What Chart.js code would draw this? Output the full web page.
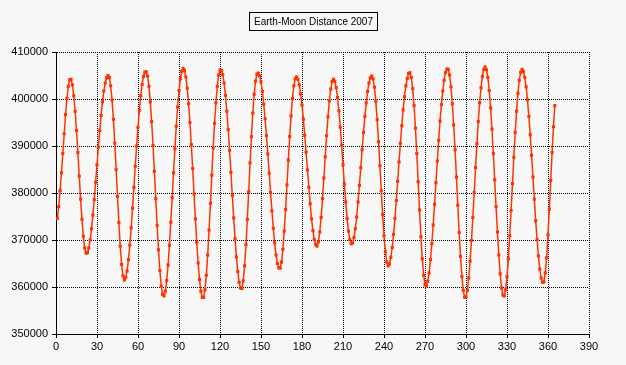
<!DOCTYPE html>
<html>
<head>
<meta charset="utf-8">
<script src="https://cdn.jsdelivr.net/npm/chart.js@4.4.1/dist/chart.umd.min.js"></script>
<style>
html,body{margin:0;padding:0;background:#f7f7f7;}
#wrap{position:relative;width:626px;height:365px;overflow:hidden;}
#c{position:absolute;left:0;top:0;}
#title{position:absolute;left:249px;top:12px;width:127px;height:17px;border:1px solid #000;
  font:10px "Liberation Sans",Arial,sans-serif;line-height:17px;text-align:center;color:#000;}
</style>
</head>
<body>
<div id="wrap">
  <canvas id="c" width="626" height="365"></canvas>
  <div id="title"></div>
</div>
<script>
const chartTitle = "Earth-Moon Distance 2007";
const firstDay = 1;
// daily Earth-Moon distance (km), day 1 .. day 365
const distanceKm = [
  374600, 377100, 380500, 384300, 388400, 392600, 396700, 400100, 402700, 404100,
  404200, 403000, 400700, 397400, 393300, 388600, 383600, 378700, 374400, 370800, 368300, 367200,
  367300, 368300, 370000, 372400, 375300, 378600, 382300, 386000, 389800, 393300, 396500, 399400, 401700, 403400, 404500, 405000,
  404600, 402800, 399800, 395700, 390600, 385000, 379300, 373700, 368700, 364800, 362400, 361500,
  362000, 363400, 365800, 368900, 372600, 376800, 381200, 385700, 390000, 394000, 397600, 400700, 403100, 404800, 405700,
  405800, 404900, 402700, 399400, 395200, 390100, 384600, 378800, 373100, 367900, 363500, 360200, 358400,
  358100, 359100, 361400, 364700, 368900, 373800, 379000, 384300, 389400, 394200, 398300, 401800, 404300, 405900, 406500,
  406100, 404700, 402300, 399000, 395000, 390300, 385200, 379800, 374500, 369500, 365100, 361600, 359100, 357800,
  357800, 359400, 362500, 366800, 372100, 377800, 383800, 389600, 394800, 399200, 402700, 405100, 406200,
  406100, 405200, 403400, 400800, 397400, 393500, 389100, 384400, 379500, 374700, 370300, 366400, 363300, 361000, 359800,
  359700, 361300, 364500, 369000, 374400, 380300, 386400, 392000, 397000, 401000, 403800, 405300,
  405500, 404900, 403600, 401600, 398900, 395800, 392200, 388300, 384200, 380100, 376200, 372500, 369400, 366800, 365000, 364100,
  364000, 365300, 368000, 371900, 376500, 381700, 387000, 392000, 396400, 400100, 402800, 404300,
  404700, 404200, 403000, 401100, 398700, 395700, 392300, 388700, 384900, 381200, 377700, 374500, 372000, 370100, 369000,
  368700, 369600, 371700, 374800, 378800, 383200, 387700, 392200, 396200, 399600, 402100, 403700, 404200,
  403800, 402400, 400300, 397500, 394000, 390200, 386000, 381900, 378100, 374600, 371900, 370100, 369200,
  369400, 370500, 372400, 374900, 378100, 381600, 385400, 389200, 392900, 396300, 399200, 401600, 403400, 404500, 404900,
  404300, 402500, 399500, 395600, 390900, 385800, 380500, 375400, 370900, 367500, 365300, 364500,
  364900, 366300, 368400, 371200, 374600, 378400, 382500, 386600, 390600, 394300, 397700, 400500, 402800, 404400, 405400,
  405600, 404600, 402200, 398600, 393800, 388400, 382400, 376400, 370700, 366000, 362500, 360500,
  360300, 361200, 363000, 365800, 369200, 373200, 377600, 382200, 386800, 391200, 395300, 398800, 401700, 404000, 405600, 406400,
  406300, 405100, 402600, 399000, 394500, 389200, 383400, 377400, 371600, 366500, 362200, 359300, 357800,
  357900, 359300, 361900, 365500, 369900, 374800, 380100, 385400, 390500, 395200, 399200, 402400, 404800, 406300,
  406800, 406200, 404600, 401800, 398100, 393600, 388400, 382800, 377100, 371700, 366800, 362800, 359800, 358300,
  358100, 359400, 362200, 366000, 370900, 376300, 382000, 387600, 392900, 397400, 401200, 404000, 405700,
  406300, 405900, 404600, 402600, 399800, 396300, 392400, 388000, 383400, 378700, 374100, 370100, 366600, 363800, 361900, 361000,
  361100, 363000, 366200, 371100, 376600, 382700, 388600, 394100, 398600
];
const xTickValues = [0, 30, 60, 90, 120, 150, 180, 210, 240, 270, 300, 330, 360, 390];
const yTickValues = [350000, 360000, 370000, 380000, 390000, 400000, 410000];

document.getElementById('title').textContent = chartTitle;

const points = distanceKm.map((v, i) => ({ x: firstDay + i, y: v }));
const FONT = { family: '"Liberation Sans", Arial, sans-serif', size: 11 };
const RED = '#ff3300';

new Chart(document.getElementById('c'), {
  type: 'line',
  data: {
    datasets: [{
      data: points,
      borderColor: RED,
      backgroundColor: RED,
      borderWidth: 1.5,
      pointStyle: 'rect',
      pointRadius: 2.2,
      pointBorderWidth: 0,
      pointBackgroundColor: RED,
      tension: 0,
      fill: false
    }]
  },
  options: {
    responsive: false,
    animation: false,
    events: [],
    layout: { padding: { top: 52, right: 37, left: 0, bottom: 0 } },
    plugins: { legend: { display: false }, title: { display: false }, tooltip: { enabled: false } },
    scales: {
      x: {
        type: 'linear',
        min: xTickValues[0],
        max: xTickValues[xTickValues.length - 1],
        afterBuildTicks: s => { s.ticks = xTickValues.map(v => ({ value: v })); },
        afterFit: s => { s.height = 31; },
        ticks: { color: '#000', font: FONT, padding: 2, maxRotation: 0, autoSkip: false,
                 callback: v => String(v) },
        grid: { color: '#000', lineWidth: 1, tickLength: 4, tickColor: '#000' },
        border: { display: true, color: '#000', width: 1, dash: [1, 1] }
      },
      y: {
        type: 'linear',
        min: yTickValues[0],
        max: yTickValues[yTickValues.length - 1],
        afterBuildTicks: s => { s.ticks = yTickValues.map(v => ({ value: v })); },
        afterFit: s => { s.width = 56; },
        ticks: { color: '#000', font: FONT, padding: 4, autoSkip: false,
                 callback: v => String(v) },
        grid: { color: '#000', lineWidth: 1, tickLength: 4, tickColor: '#000' },
        border: { display: true, color: '#000', width: 1, dash: [1, 1] }
      }
    }
  }
});
</script>
</body>
</html>
